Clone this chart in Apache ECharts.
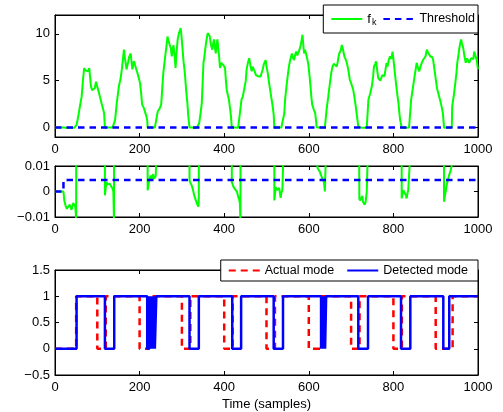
<!DOCTYPE html>
<html><head><meta charset="utf-8">
<script src="https://cdn.jsdelivr.net/npm/echarts@6/dist/echarts.min.js"></script>
<style>html,body{margin:0;padding:0;background:#fff}#c{width:503px;height:412px}</style>
</head><body><div id="c"></div>
<script>
// ---- data ----
const xTickValues = [0, 200, 400, 600, 800, 1000];
const topYTicks = [0, 5, 10];
const midYTicks = [-0.01, 0, 0.01];
const botYTicks = [-0.5, 0, 0.5, 1, 1.5];

const fkPoints = [
 [0,0],[20,0],[22,-0.0035],[25,-0.0055],[28,-0.0068],[31,-0.006],[35,-0.0052],[39,-0.0072],[43,-0.0045],[46,-0.004],[48,-0.006],[50,-0.011],
 [51,0.3],[55,1.2],[59,2.3],[63,3.3],[66,5.0],[69,6.35],[72,6.1],[75,6.3],[78,6.0],[81,6.35],[85,4.4],[88,4.0],[91,3.86],[94,4.2],[97,4.9],[99,4.5],[101,4.2],[104,3.7],[106,3.9],[110,2.6],[113,2.1],[116,1.56],
 [118,-0.0015],[120,0.0015],[122,0.0037],[124,0.0028],[126,0.0024],[128,0.0033],[130,0.003],[132,0.0022],[134,0.002],[136,0.0012],[138,0],[139.5,-0.012],
 [142,0.8],[146,2.6],[151,4.4],[155,5.2],[158,6.2],[163,8.3],[165,7.5],[167,6.9],[169,6.2],[171,6.0],[173,7.0],[175,7.5],[177,7.7],[179,7.9],[181,7.0],[183,6.2],[185,6.8],[187,7.06],[189,6.7],[191,6.9],[195,5.8],[198,5.3],[201,4.76],[204,3.5],[206,2.45],[210,2.1],[213,1.9],[216,1.2],[218,0.8],
 [219,0.0005],[222,0.0037],[224,0.0052],[226,0.0063],[228,0.0045],[230,0.006],[232,0.0068],[234,0.005],[236,0.0055],[238,0.006],[239.5,0.012],
 [243,1.74],[247,2.0],[251,2.45],[256,5.8],[260,7.4],[263,8.5],[266,9.7],[268,9.3],[270,9.5],[272,9.2],[274,8.4],[276,7.6],[278,8.2],[280,8.8],[283,7.5],[285,6.35],[287,7.8],[290,9.4],[293,10.07],[295,10.3],[297,10.6],[299,9.8],[301,8.65],[304,7.0],[307,5.8],[310,4.0],[313,2.6],[315,1.3],
 [318,0.0044],[320,0.0035],[323,0.0025],[326,0.0008],[329,-0.0015],[332,-0.003],[335,-0.0045],[337,-0.005],[339,-0.006],[340,-0.003],
 [341,0.5],[344,1.5],[347,2.6],[351,6.9],[353,7.5],[356,8.65],[358,9.3],[361,10.07],[363,9.9],[366,9.7],[368,9.0],[370,8.6],[372,8.3],[374,9.0],[376,9.4],[378,8.6],[380,7.9],[382,8.8],[384,9.4],[386,8.4],[388,7.6],[390,6.35],[393,6.9],[396,7.06],[399,6.6],[402,6.35],[404,5.0],[406,4.04],[409,3.4],[411,3.0],[414,2.0],[416,1.2],
 [418,0.0037],[422,0.0018],[426,0.0008],[430,0],[433,-0.002],[435,-0.003],[437,-0.0045],[438.5,-0.012],
 [441,3.0],[444,3.3],[448,3.5],[451,5.0],[453,6.2],[456,6.9],[459,7.4],[462,6.6],[465,6.0],[467,6.5],[470,6.7],[472,6.0],[475,5.6],[478,5.5],[481,5.45],[484,5.35],[486,5.45],[489,5.9],[491,6.2],[494,6.8],[498,7.2],[500,6.5],[503,5.8],[506,4.8],[508,4.2],[511,3.3],[514,2.45],[517,1.4],
 [518.5,-0.0035],[522,0.0018],[524,0.0005],[526,0],[528,0.0012],[530,0.0014],[532,-0.001],[533.5,-0.0025],[535,-0.0005],[537.5,0.0005],[539.5,0.012],
 [542,1.5],[544,3.0],[547,4.3],[550,5.45],[553,6.5],[556,7.2],[560,7.9],[562,7.5],[565,7.2],[568,7.8],[570,8.1],[573,7.7],[575,7.9],[578,8.3],[580,8.65],[583,9.3],[585,9.9],[587,8.8],[589,7.9],[591,8.3],[593,8.1],[596,7.4],[599,6.7],[602,5.4],[604,4.4],[606,3.3],[608,2.45],[612,1.9],[615,1.56],[617,0.8],
 [618.6,0.012],[621,0.009],[624,0.0085],[626.5,0.0077],[628,0.0068],[630.5,0.0057],[632,0.005],[634.4,0.0043],[636,0.0035],[638,0],[640,0.012],
 [642,1.9],[646,3.3],[650,4.76],[653,5.8],[656,6.5],[659,6.8],[662,6.7],[666,6.5],[668,6.9],[670,7.5],[672,7.9],[674,7.9],[676,8.3],[678,8.8],[681,8.3],[684,7.6],[687,7.3],[690,6.9],[694,6.0],[697,5.1],[701,4.6],[705,4.04],[708,3.2],[711,2.27],[714,1.2],[717,0.1],
 [719.5,-0.0027],[721,-0.0035],[723.5,-0.004],[725,-0.003],[726.6,-0.0018],[728,-0.004],[730.5,-0.0045],[732,-0.0052],[734.5,-0.004],[737,-0.0001],[739,0.012],
 [741,3.0],[745,3.6],[749,4.4],[752,5.4],[754,6.5],[757,6.8],[759,7.06],[762,6.0],[764,5.3],[767,5.5],[769,5.0],[771,5.1],[774,5.6],[776,5.8],[779,5.5],[782,6.4],[784,6.9],[786,6.5],[789,7.2],[792,7.6],[795,7.3],[798,8.1],[801,6.9],[804,5.6],[806,4.76],[809,3.6],[812,2.6],[814,1.6],[816,0.8],
 [819.6,-0.0027],[821.5,-0.001],[823.5,0.0005],[825.5,0.0002],[827.5,0],[829.5,-0.0015],[831.4,-0.0027],[833,-0.001],[835,0.0005],[837,0.001],[839,0.012],
 [842,3.0],[846,4.2],[850,5.45],[853,6.3],[855,6.9],[858,6.4],[861,6.0],[864,6.5],[867,6.9],[870,7.2],[873,7.06],[876,7.6],[879,8.3],[882,8.0],[884,8.1],[887,7.6],[890,7.7],[892,7.5],[894,7.2],[897,6.2],[901,4.9],[903,4.2],[906,3.7],[910,3.0],[913,2.45],[917,1.56],
 [919.7,-0.004],[921.5,-0.002],[923.6,0],[925.5,0.002],[927.6,0.0037],[929.5,0.005],[931.5,0.0063],[934,0.0075],[936,0.0088],[938,0.01],
 [939,2.27],[943,3.5],[946,4.6],[949,5.8],[951,6.9],[954,7.8],[956,8.5],[958,9.0],[960,9.4],[962,9.0],[965,8.5],[968,7.6],[971,6.9],[974,7.4],[976,7.2],[979,6.9],[981,7.06],[984,7.4],[987,7.6],[989,7.3],[991,8.1],[994,7.9],[997,7.2],[1000,6.2]
];
const thresholdPoints = [[0,0],[20,0],[20,0.0045],[1000,0.0045]];

// mode switches: [sample, new mode]
const actualSwitches = [[0,0],[50,1],[100,0],[120,1],[200,0],[220,1],[300,0],[320,1],[400,0],[420,1],[500,0],[520,1],[600,0],[630,1],[700,0],[720,1],[800,0],[820,1],[900,0],[940,1]];
const detectedSwitches = [[0,0],[51,1],[118,0],[140,1],[218,0],[223,1],[224,0],[225.5,1],[227,0],[228.5,1],[230,0],[231.5,1],[233,0],[234.5,1],[236,0],[239.5,1],[318,0],[340,1],[419,0],[440,1],[517,0],[539,1],[629,0],[631,1],[632.5,0],[634,1],[635.5,0],[637,1],[638.5,0],[641,1],[717,0],[740,1],[818,0],[840,1],[918,0],[932,1]];
const xEnd = 1000;

// ---- helpers ----
function steps(sw, end) {
  const out = [];
  sw.forEach((p, i) => { if (i > 0) out.push([p[0], sw[i - 1][1]]); out.push([p[0], p[1]]); });
  out.push([end, sw[sw.length - 1][1]]);
  return out;
}
const FONT = 'Liberation Sans, Arial, Helvetica, sans-serif';
const fmt = v => String(+v.toFixed(4)).replace('-', '\u2212');

const grids = [
  {left: 55, top: 15, width: 423, height: 122},
  {left: 55, top: 166, width: 423, height: 51},
  {left: 55, top: 270, width: 423, height: 105}
].map(g => Object.assign(g, {show: true, borderColor: '#000', borderWidth: 1, backgroundColor: '#fff', containLabel: false}));

const xAxes = [], yAxes = [];
const yRanges = [[-1, 12, topYTicks], [-0.01, 0.01, midYTicks], [-0.5, 1.5, botYTicks]];
for (let g = 0; g < 3; g++) {
  const base = {type: 'value', gridIndex: g, min: 0, max: 1000, interval: 200, splitLine: {show: false}};
  xAxes.push(Object.assign({}, base, {
    position: 'bottom',
    axisLine: {show: true, onZero: false, lineStyle: {color: '#000', width: 1}},
    axisTick: {show: true, inside: true, length: 4, lineStyle: {color: '#000'}, customValues: xTickValues},
    axisLabel: {show: true, margin: 6, color: '#000', fontSize: 13, fontFamily: FONT, formatter: fmt, customValues: xTickValues},
    name: g === 2 ? 'Time (samples)' : '', nameLocation: 'middle', nameGap: 23,
    nameTextStyle: {color: '#000', fontSize: 13, fontFamily: FONT}
  }));
  xAxes.push(Object.assign({}, base, {
    position: 'top',
    axisLine: {show: true, onZero: false, lineStyle: {color: '#000', width: 1}},
    axisTick: {show: true, inside: true, length: 4, lineStyle: {color: '#000'}, customValues: xTickValues},
    axisLabel: {show: false}
  }));
  const [mn, mx, tv] = yRanges[g];
  const ybase = {type: 'value', gridIndex: g, min: mn, max: mx, splitLine: {show: false}};
  yAxes.push(Object.assign({}, ybase, {
    position: 'left',
    axisLine: {show: true, onZero: false, lineStyle: {color: '#000', width: 1}},
    axisTick: {show: true, inside: true, length: 4, lineStyle: {color: '#000'}, customValues: tv},
    axisLabel: {show: true, margin: 5, color: '#000', fontSize: 13, fontFamily: FONT, formatter: fmt, customValues: tv}
  }));
  yAxes.push(Object.assign({}, ybase, {
    position: 'right',
    axisLine: {show: true, onZero: false, lineStyle: {color: '#000', width: 1}},
    axisTick: {show: true, inside: true, length: 4, lineStyle: {color: '#000'}, customValues: tv},
    axisLabel: {show: false, customValues: tv}
  }));
}

const green = '#00ff00', blue = '#0000ff', red = '#ff0000';
const series = [
  {name: 'f_k', type: 'line', xAxisIndex: 0, yAxisIndex: 0, data: fkPoints, symbol: 'none', lineStyle: {color: green, width: 2}, itemStyle: {color: green}, clip: true},
  {name: 'Threshold', type: 'line', xAxisIndex: 0, yAxisIndex: 0, data: thresholdPoints, symbol: 'none', lineStyle: {color: blue, width: 2.5, type: [6.5, 5]}, itemStyle: {color: blue}, clip: true},
  {name: 'f_k', type: 'line', xAxisIndex: 2, yAxisIndex: 2, data: fkPoints, symbol: 'none', lineStyle: {color: green, width: 2}, itemStyle: {color: green}, clip: true},
  {name: 'Threshold', type: 'line', xAxisIndex: 2, yAxisIndex: 2, data: thresholdPoints, symbol: 'none', lineStyle: {color: blue, width: 2.5, type: [6.5, 5]}, itemStyle: {color: blue}, clip: true},
  {name: 'Actual mode', type: 'line', xAxisIndex: 4, yAxisIndex: 4, data: steps(actualSwitches, xEnd), symbol: 'none', lineStyle: {color: red, width: 2.5, type: [7, 5]}, itemStyle: {color: red}, clip: true},
  {name: 'Detected mode', type: 'line', xAxisIndex: 4, yAxisIndex: 4, data: steps(detectedSwitches, xEnd), symbol: 'none', lineStyle: {color: blue, width: 2.5}, itemStyle: {color: blue}, clip: true}
];

const legendBase = {
  orient: 'horizontal', right: 25, itemWidth: 31, itemHeight: 10,
  borderColor: '#000', borderWidth: 1, backgroundColor: '#fff', borderRadius: 0,
  itemStyle: {opacity: 0},
  textStyle: {color: '#000', fontSize: 12.5, fontFamily: FONT}
};
const legends = [
  Object.assign({}, legendBase, {
    top: 5, data: ['f_k', 'Threshold'], itemGap: 6, padding: [6, 3, 6, 7],
    formatter: n => n === 'f_k' ? '{f|f}{k|k}' : n,
    textStyle: {color: '#000', fontSize: 12.5, fontFamily: FONT,
      rich: {f: {fontSize: 13, fontFamily: FONT, color: '#000', lineHeight: 15},
             k: {fontSize: 9, fontFamily: FONT, color: '#000', padding: [7, 0, 0, 1], lineHeight: 15}}}
  }),
  Object.assign({}, legendBase, {top: 260, data: ['Actual mode', 'Detected mode'], itemGap: 12, padding: [4, 10, 4, 7]})
];

const chart = echarts.init(document.getElementById('c'), null, {renderer: 'canvas'});
chart.setOption({
  animation: false,
  backgroundColor: '#fff',
  textStyle: {fontFamily: FONT},
  grid: grids, xAxis: xAxes, yAxis: yAxes, legend: legends, series: series
});
</script></body></html>
